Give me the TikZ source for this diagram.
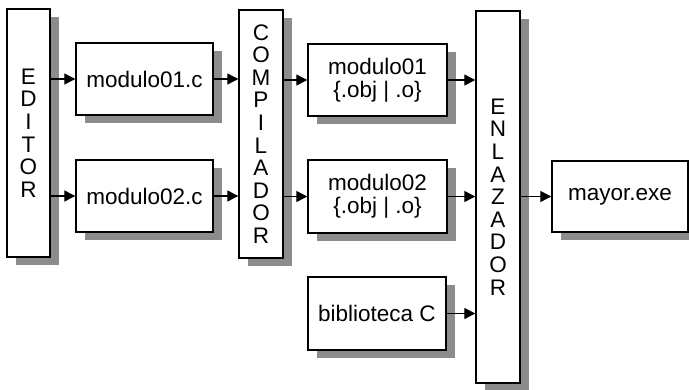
\documentclass[tikz,border=0pt]{standalone}
\usepackage{fontspec}
\setmainfont{Liberation Sans}
\usetikzlibrary{arrows.meta,shadows}

\begin{document}
\begin{tikzpicture}[x=1pt, y=-1pt, >={Triangle[length=11pt,width=11pt]},
		font=\fontsize{22.5}{22.6}\selectfont,
		caja/.style={draw, line width=1.4pt, fill=white, inner sep=0pt, align=center,
			drop shadow={shadow xshift=9pt, shadow yshift=-8pt, fill=black!45, opacity=1}},
		flecha/.style={->, line width=1.2pt}]
		\useasboundingbox (0,0) rectangle (689,389);
		% etapas verticales
		\node[caja, minimum width=43pt, minimum height=248pt] (editor) at (28.5,133) {E\\D\\I\\T\\O\\R};
		\node[caja, minimum width=44pt, minimum height=248pt] (compilador) at (261,134) {C\\O\\M\\P\\I\\L\\A\\D\\O\\R};
		\node[caja, minimum width=44pt, minimum height=372pt] (enlazador) at (498,197) {E\\N\\L\\A\\Z\\A\\D\\O\\R};
		% fuentes
		\node[caja, minimum width=137pt, minimum height=72pt] (fuente1) at (144.5,79) {modulo01.c};
		\node[caja, minimum width=137pt, minimum height=72pt] (fuente2) at (144.5,196) {modulo02.c};
		% objetos
		\node[caja, minimum width=139pt, minimum height=72pt] (objeto1) at (377.5,80) {modulo01\\\{.obj | .o\}};
		\node[caja, minimum width=139pt, minimum height=73pt] (objeto2) at (377.5,196.5) {modulo02\\\{.obj | .o\}};
		\node[caja, minimum width=138pt, minimum height=73pt] (biblio) at (377,313.5) {biblioteca C};
		% ejecutable
		\node[caja, minimum width=136pt, minimum height=71pt] (mayor) at (620,196.5) {mayor.exe};
		% flechas
		\draw[flecha] (editor.east |- fuente1) -- (fuente1.west);
		\draw[flecha] (editor.east |- fuente2) -- (fuente2.west);
		\draw[flecha] (fuente1.east) -- (compilador.west |- fuente1);
		\draw[flecha] (fuente2.east) -- (compilador.west |- fuente2);
		\draw[flecha] (compilador.east |- objeto1) -- (objeto1.west);
		\draw[flecha] (compilador.east |- objeto2) -- (objeto2.west);
		\draw[flecha] (objeto1.east) -- (enlazador.west |- objeto1);
		\draw[flecha] (objeto2.east) -- (enlazador.west |- objeto2);
		\draw[flecha] (biblio.east) -- (enlazador.west |- biblio);
		\draw[flecha] (enlazador.east |- mayor) -- (mayor.west);
	\end{tikzpicture}
\end{document}
